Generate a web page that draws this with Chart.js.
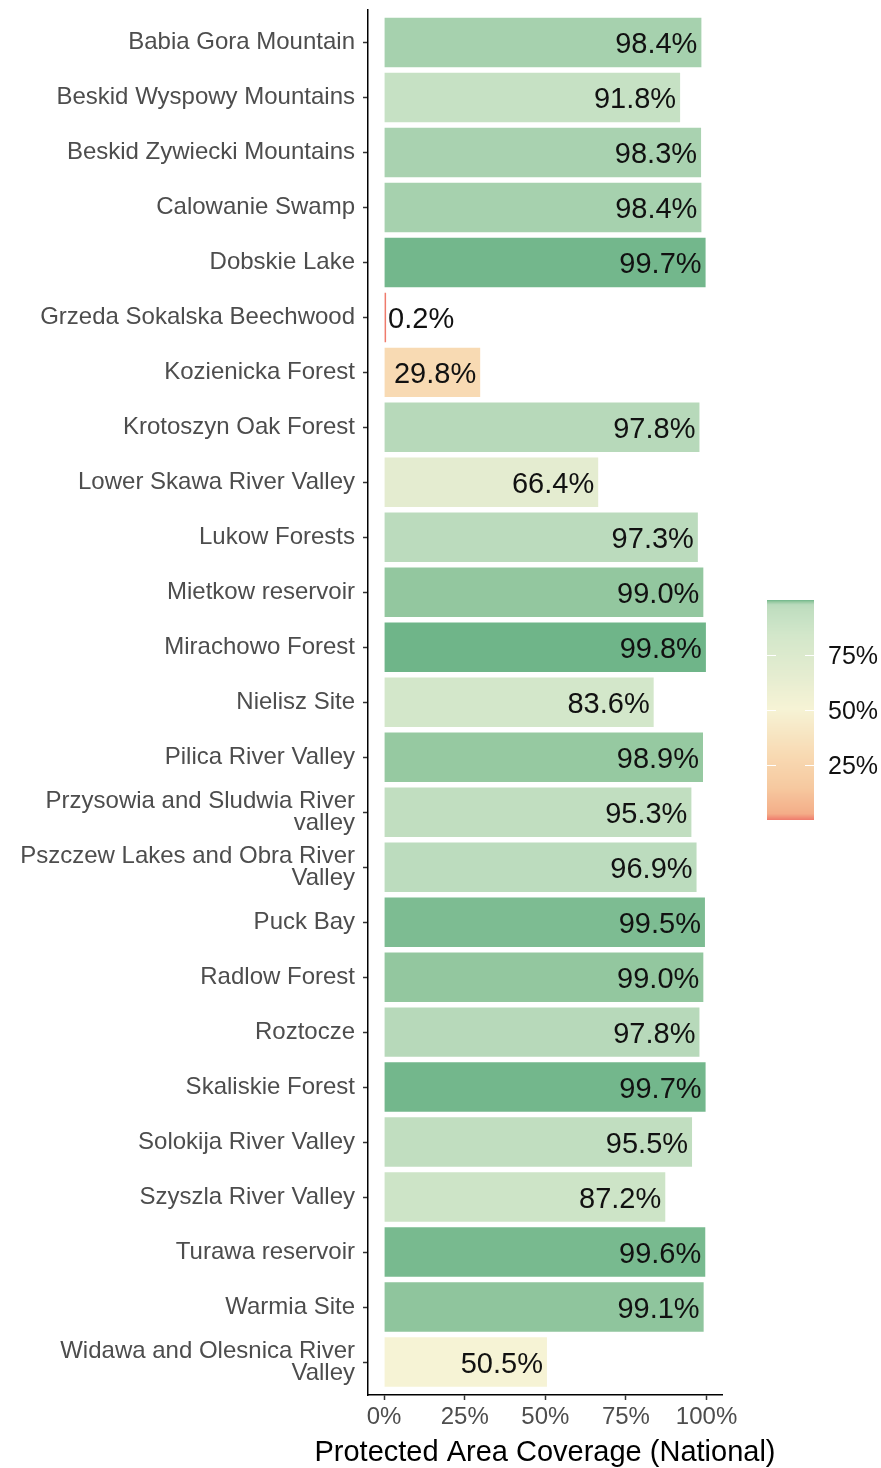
<!DOCTYPE html>
<html>
<head>
<meta charset="utf-8">
<script src="https://cdn.jsdelivr.net/npm/chart.js@4"></script>
<style>
  body { margin: 0; background: #fff; }
  canvas { display: block; }
</style>
</head>
<body>
<canvas id="coverageChart" width="881" height="1468"></canvas>
<script>
// sites, top to bottom
const sites = [
  "Babia Gora Mountain",
  "Beskid Wyspowy Mountains",
  "Beskid Zywiecki Mountains",
  "Calowanie Swamp",
  "Dobskie Lake",
  "Grzeda Sokalska Beechwood",
  "Kozienicka Forest",
  "Krotoszyn Oak Forest",
  "Lower Skawa River Valley",
  "Lukow Forests",
  "Mietkow reservoir",
  "Mirachowo Forest",
  "Nielisz Site",
  "Pilica River Valley",
  ["Przysowia and Sludwia River", "valley"],
  ["Pszczew Lakes and Obra River", "Valley"],
  "Puck Bay",
  "Radlow Forest",
  "Roztocze",
  "Skaliskie Forest",
  "Solokija River Valley",
  "Szyszla River Valley",
  "Turawa reservoir",
  "Warmia Site",
  ["Widawa and Olesnica River", "Valley"],
];

// protected area coverage (national), %
const coverage = [
  98.4, 91.8, 98.3, 98.4, 99.7, 0.2, 29.8, 97.8, 66.4, 97.3, 99.0, 99.8, 83.6,
  98.9, 95.3, 96.9, 99.5, 99.0, 97.8, 99.7, 95.5, 87.2, 99.6, 99.1, 50.5,
];

const xTicks = [0, 25, 50, 75, 100];
const legendTicks = [25, 50, 75];
const xTitle = "Protected Area Coverage (National)";

// colour ramp (value -> fill)
const rampStops = [
  [0.2, [239, 123, 108]],
  [3, [244, 173, 136]],
  [15, [246, 201, 160]],
  [29.8, [248, 218, 179]],
  [50.5, [246, 243, 213]],
  [66.4, [228, 236, 208]],
  [83.6, [211, 231, 202]],
  [91.8, [198, 225, 196]],
  [95.4, [193, 222, 192]],
  [97.3, [187, 219, 189]],
  [97.8, [183, 217, 186]],
  [98.4, [166, 209, 174]],
  [99.0, [147, 199, 159]],
  [99.3, [135, 193, 152]],
  [99.6, [120, 186, 143]],
  [99.8, [111, 181, 137]],
];

function fillFor(v) {
  if (v <= rampStops[0][0]) return "rgb(" + rampStops[0][1].join(",") + ")";
  for (let i = 1; i < rampStops.length; i++) {
    const [v1, c1] = rampStops[i];
    const [v0, c0] = rampStops[i - 1];
    if (v <= v1) {
      const t = (v - v0) / (v1 - v0);
      const c = c0.map((a, k) => Math.round(a + (c1[k] - a) * t));
      return "rgb(" + c.join(",") + ")";
    }
  }
  return "rgb(" + rampStops[rampStops.length - 1][1].join(",") + ")";
}

const FONT = "'Liberation Sans', Arial, sans-serif";

// value labels on the bars + x axis title
const barLabels = {
  id: "barLabels",
  afterDatasetsDraw(chart) {
    const ctx = chart.ctx;
    const meta = chart.getDatasetMeta(0);
    ctx.save();
    ctx.font = "29px " + FONT;
    ctx.fillStyle = "#111";
    ctx.textBaseline = "middle";
    meta.data.forEach((bar, i) => {
      const txt = coverage[i].toFixed(1) + "%";
      if (coverage[i] < 10) {
        ctx.textAlign = "left";
        ctx.fillText(txt, bar.x + 2, bar.y + 3);
      } else {
        ctx.textAlign = "right";
        ctx.fillText(txt, bar.x - 4, bar.y + 3);
      }
    });
    const area = chart.chartArea;
    ctx.fillStyle = "#000";
    ctx.textAlign = "center";
    ctx.textBaseline = "alphabetic";
    ctx.fillText(xTitle, (area.left + area.right) / 2, 1461);
    ctx.restore();
  },
};

// colourbar legend on the right
const colourBar = {
  id: "colourBar",
  afterDraw(chart) {
    const ctx = chart.ctx;
    const left = 767, width = 47, top = 600, bottom = 820;
    const lo = 0.2, hi = 99.8;
    const yFor = (v) => bottom - ((v - lo) / (hi - lo)) * (bottom - top);
    ctx.save();
    for (let y = top; y < bottom; y++) {
      const v = lo + ((bottom - y - 0.5) / (bottom - top)) * (hi - lo);
      ctx.fillStyle = fillFor(v);
      ctx.fillRect(left, y, width, 1);
    }
    ctx.strokeStyle = "#fff";
    ctx.lineWidth = 1.2;
    ctx.font = "25px " + FONT;
    ctx.fillStyle = "#111";
    ctx.textAlign = "left";
    ctx.textBaseline = "middle";
    legendTicks.forEach((v) => {
      const y = Math.round(yFor(v)) + 0.5;
      ctx.beginPath();
      ctx.moveTo(left, y);
      ctx.lineTo(left + 9, y);
      ctx.moveTo(left + width - 9, y);
      ctx.lineTo(left + width, y);
      ctx.stroke();
      ctx.fillText(v + "%", 828, y + 2);
    });
    ctx.restore();
  },
};

new Chart(document.getElementById("coverageChart"), {
  type: "bar",
  data: {
    datasets: [
      {
        data: coverage.map((v, i) => ({ x: v, y: i })),
        backgroundColor: (c) => fillFor(c.raw ? c.raw.x : 0),
        barPercentage: 0.9,
        categoryPercentage: 1,
        minBarLength: 2,
      },
    ],
  },
  options: {
    indexAxis: "y",
    responsive: false,
    animation: false,
    layout: { padding: { top: 9.5, right: 159, left: 0, bottom: 0 } },
    plugins: {
      legend: { display: false },
      tooltip: { enabled: false },
    },
    scales: {
      y: {
        type: "linear",
        reverse: true,
        offset: false,
        min: -0.6,
        max: 24.6,
        afterBuildTicks: (s) => {
          s.ticks = sites.map((_, i) => ({ value: i }));
        },
        afterFit: (s) => {
          s.width = 368;
          s.paddingTop = 0;
          s.paddingBottom = 0;
        },
        ticks: {
          autoSkip: false,
          callback: (v) => sites[v],
          color: "#4d4d4d",
          padding: 8,
          font: { family: FONT, size: 24, lineHeight: 0.92 },
        },
        grid: {
          offset: false,
          drawOnChartArea: false,
          tickLength: 5,
          tickColor: "#333",
          tickWidth: 1.5,
        },
        border: { color: "#000", width: 1.5 },
      },
      x: {
        type: "linear",
        min: -4.99,
        max: 104.79,
        afterBuildTicks: (s) => {
          s.ticks = xTicks.map((v) => ({ value: v }));
        },
        afterFit: (s) => {
          s.height = 73;
        },
        ticks: {
          maxRotation: 0,
          callback: (v) => v + "%",
          color: "#4d4d4d",
          padding: 3,
          font: { family: FONT, size: 24 },
        },
        grid: {
          drawOnChartArea: false,
          tickLength: 5,
          tickColor: "#333",
          tickWidth: 1.5,
        },
        border: { color: "#000", width: 1.5 },
      },
    },
  },
  plugins: [barLabels, colourBar],
});
</script>
</body>
</html>
